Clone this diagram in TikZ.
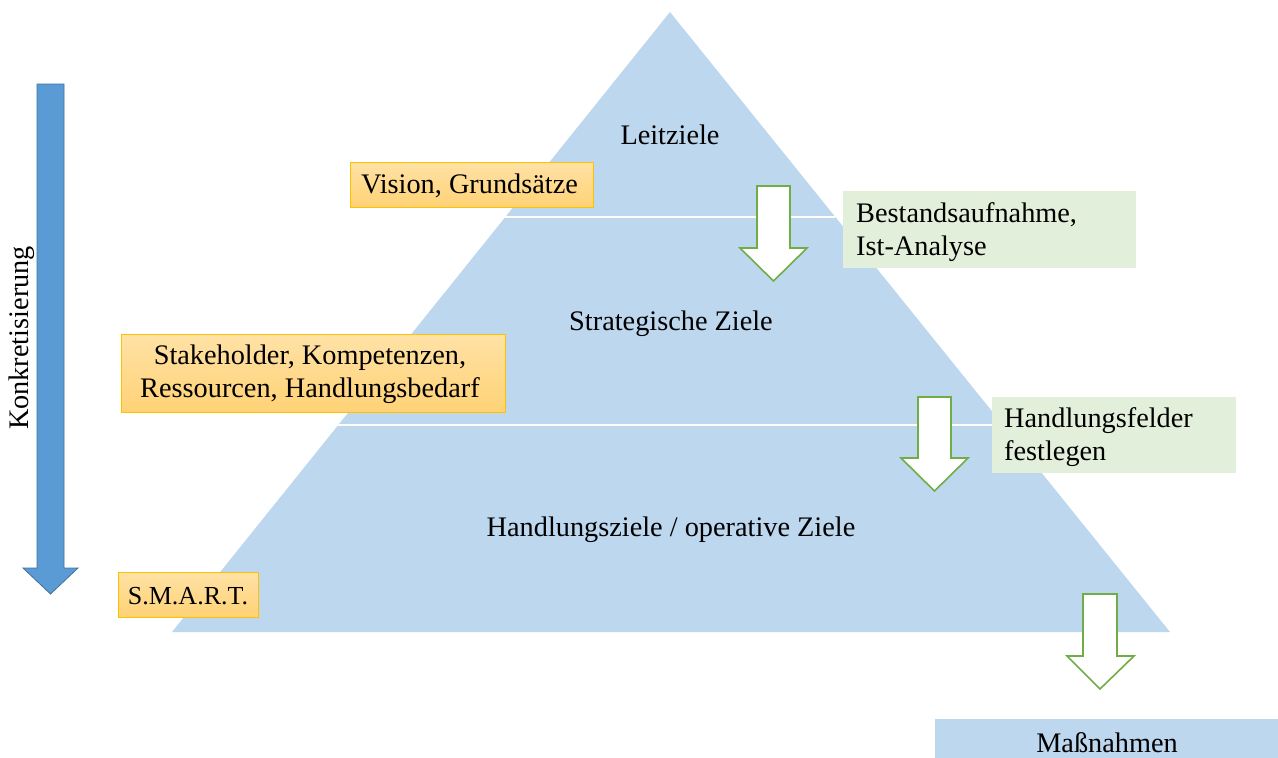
\documentclass[tikz,border=0pt]{standalone}
\usepackage{fontspec}
\setmainfont{Liberation Serif}
\definecolor{pyr}{HTML}{BDD7EE}
\definecolor{ortop}{HTML}{FFE2A6}
\definecolor{orbot}{HTML}{FFD275}
\definecolor{ordraw}{HTML}{FFC000}
\definecolor{grfill}{HTML}{E2EFDA}
\definecolor{grdraw}{HTML}{70AD47}
\definecolor{bluearr}{HTML}{5B9BD5}
\definecolor{bluedraw}{HTML}{41719C}
\tikzset{
  txt/.style={font=\fontsize{28.3}{33}\selectfont, inner sep=0pt},
  orbox/.style={draw=ordraw, line width=0.8pt, top color=ortop, bottom color=orbot, inner sep=0pt},
  grbox/.style={fill=grfill, inner sep=0pt},
  garrow/.style={draw=grdraw, fill=white, line width=1.6pt, line join=miter},
  divider/.style={draw=white, line width=1.8pt},
}
\begin{document}
\begin{tikzpicture}[x=1pt,y=-1pt]
\useasboundingbox (0,0) rectangle (1278,758);
% pyramid
\fill[pyr] (670,12) coordinate (apex) -- (1170,632) coordinate (br) -- (172,632) coordinate (bl) -- cycle;
\coordinate (d1l) at (505.4,217); \coordinate (d1r) at (835,217);
\coordinate (d2l) at (338.4,425); \coordinate (d2r) at (1001.6,425);
\draw[divider] (d1l) -- (d1r);
\draw[divider] (d2l) -- (d2r);
\node[txt] (leit) at (670,135) {Leitziele};
\node[txt] (strat) at (671,324) {Strategische Ziele};
\node[txt] (hand) at (671,530) {Handlungsziele / operative Ziele};
% orange boxes
\path[orbox] (350,162) rectangle (593,207);
\node[txt] (vision) at (469.5,186) {Vision, Grundsätze};
\path[orbox] (121,334) rectangle (505,412);
\node[txt, align=center] (stake) at (310,374) {Stakeholder, Kompetenzen,\\Ressourcen, Handlungsbedarf};
\path[orbox] (118,572) rectangle (258,617);
\node[txt, font=\fontsize{26}{30}\selectfont] (smart) at (188,596) {S.M.A.R.T.};
% green boxes
\path[grbox] (843,191) rectangle (1136,268);
\node[txt, align=left, anchor=west] (bestand) at (856,232) {Bestandsaufnahme,\\Ist-Analyse};
\path[grbox] (992,397) rectangle (1236,473);
\node[txt, align=left, anchor=west] (felder) at (1004,437) {Handlungsfelder\\festlegen};
% Massnahmen
\fill[pyr] (935,719) rectangle (1278,758);
\node[txt] (mass) at (1107,743) {Maßnahmen};
% green block arrows
\draw[garrow] (757,186) -- (790,186) -- (790,248) -- (807,248) -- (773.5,281) -- (740,248) -- (757,248) -- cycle;
\draw[garrow] (918,397) -- (951,397) -- (951,458) -- (968,458) -- (934.5,491) -- (901,458) -- (918,458) -- cycle;
\draw[garrow] (1083,594) -- (1117,594) -- (1117,656) -- (1134,656) -- (1100,689) -- (1067,656) -- (1083,656) -- cycle;
% blue arrow
\draw[fill=bluearr, draw=bluedraw, line width=0.8pt] (37,84) -- (64,84) -- (64,568) -- (78,568) -- (50.5,594) -- (23,568) -- (37,568) -- cycle;
\node[txt, rotate=90] (konk) at (22,338) {Konkretisierung};
\end{tikzpicture}
\end{document}
